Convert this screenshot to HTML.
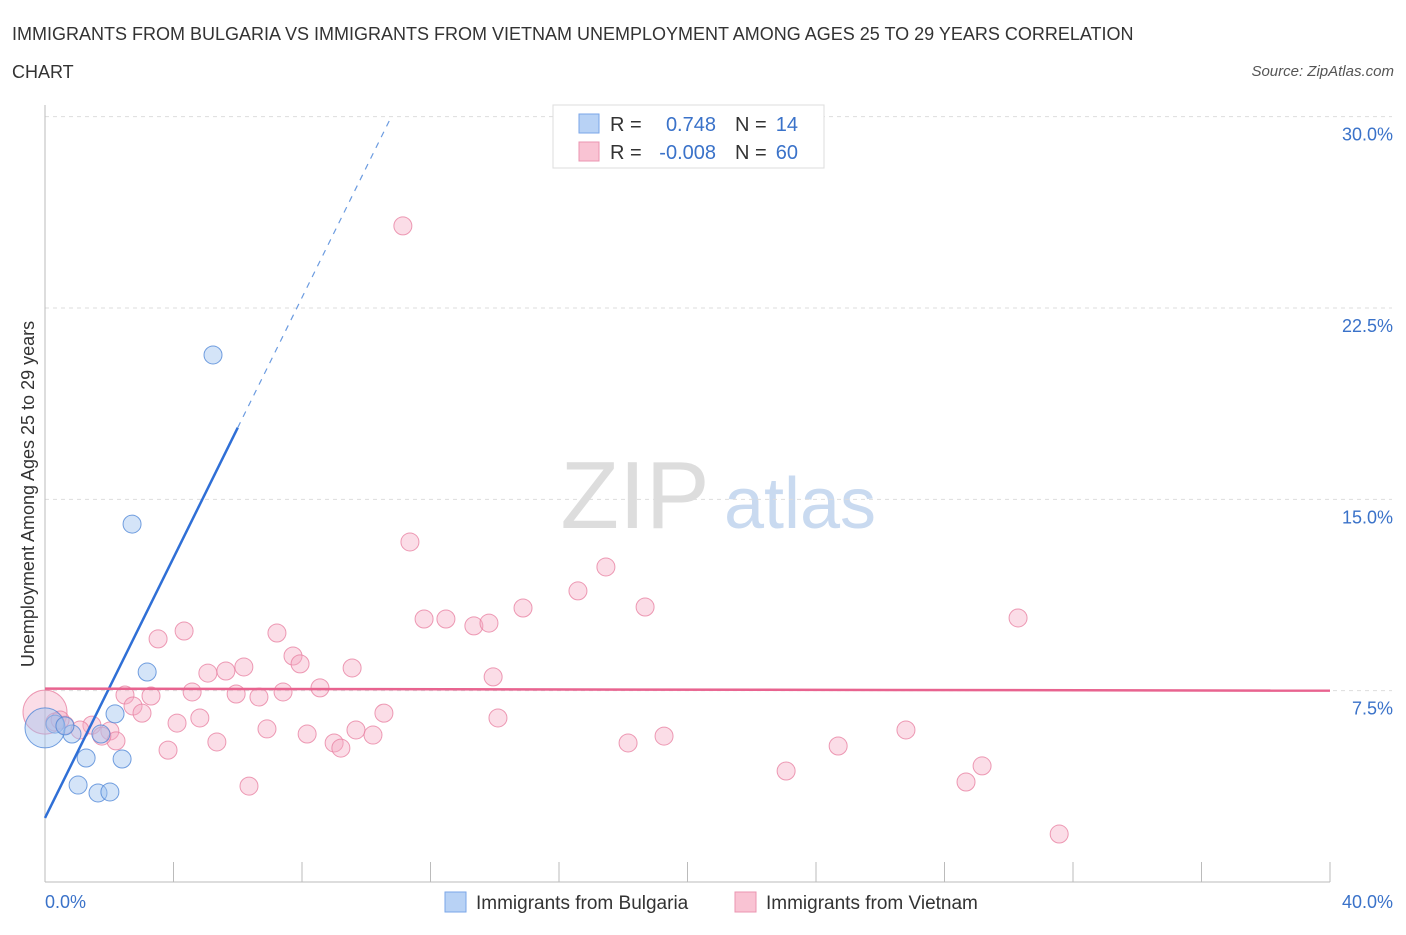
<!DOCTYPE html>
<html><head><meta charset="utf-8"><style>
body{margin:0;background:#fff;font-family:"Liberation Sans",sans-serif;}
svg text{font-family:"Liberation Sans",sans-serif;}
</style></head><body>
<svg id="chart" width="1406" height="930">
<text x="12" y="40" font-size="18" fill="#333">IMMIGRANTS FROM BULGARIA VS IMMIGRANTS FROM VIETNAM UNEMPLOYMENT AMONG AGES 25 TO 29 YEARS CORRELATION</text>
<text x="12" y="78" font-size="18" fill="#333">CHART</text>
<text x="1394" y="76" font-size="15" fill="#555" font-style="italic" text-anchor="end">Source: ZipAtlas.com</text>
<text x="635" y="528" font-size="96" fill="#ddd" font-family="Liberation Serif" text-anchor="middle">ZIP</text>
<text x="800" y="528" font-size="72" fill="#c9daf0" text-anchor="middle">atlas</text>
<text transform="translate(34,494) rotate(-90)" font-size="18" fill="#333" text-anchor="middle">Unemployment Among Ages 25 to 29 years</text>
<g id="grid"></g><g id="marks"></g><g id="lines"></g>
<g>
<rect x="553" y="105" width="271" height="63" fill="#fff" stroke="#ddd"/>
<rect x="579" y="114" width="20" height="19" fill="#b8d2f5" stroke="#7aa6e8"/>
<rect x="579" y="142" width="20" height="19" fill="#f9c3d3" stroke="#eb94b0"/>
<text x="610" y="131" font-size="20" fill="#333">R =</text>
<text x="716" y="131" font-size="20" fill="#3a72c9" text-anchor="end">0.748</text>
<text x="735" y="131" font-size="20" fill="#333">N =</text>
<text x="798" y="131" font-size="20" fill="#3a72c9" text-anchor="end">14</text>
<text x="610" y="159" font-size="20" fill="#333">R =</text>
<text x="716" y="159" font-size="20" fill="#3a72c9" text-anchor="end">-0.008</text>
<text x="735" y="159" font-size="20" fill="#333">N =</text>
<text x="798" y="159" font-size="20" fill="#3a72c9" text-anchor="end">60</text>
</g>
<g>
<rect x="445" y="892" width="21" height="20" fill="#b8d2f5" stroke="#7aa6e8"/>
<text x="476" y="909" font-size="19" fill="#333">Immigrants from Bulgaria</text>
<rect x="735" y="892" width="21" height="20" fill="#f9c3d3" stroke="#eb94b0"/>
<text x="766" y="909" font-size="19" fill="#333">Immigrants from Vietnam</text>
</g>
</svg>
<script>
const yTicks=[7.5,15,22.5,30];
const yTickLabels=["7.5%","15.0%","22.5%","30.0%"];
const xTickCount=10;
const xLabels=["0.0%","40.0%"];
const bulgariaX=[5.23,2.71,3.18,2.18,1.74,0.84,0.31,1.28,2.40,1.03,1.65,2.02,0.0,0.62];
const bulgariaY=[20.66,14.03,8.23,6.59,5.80,5.80,6.19,4.86,4.82,3.80,3.49,3.53,6.04,6.12];
const vietnamX=[11.14,11.36,17.46,16.59,14.88,18.68,30.29,11.80,12.48,13.35,13.82,4.33,3.52,7.22,7.72,7.94,9.56,6.19,5.63,5.07,13.95,8.56,4.58,7.41,5.95,6.66,2.49,3.30,2.74,3.02,10.55,14.10,4.82,4.11,6.91,9.68,2.02,1.46,8.16,10.21,26.80,19.27,2.21,5.35,18.15,9.00,9.21,24.69,3.83,29.17,23.07,28.67,6.35,31.57,0,0.31,0.62,1.09,1.77,0.47];
const vietnamY=[25.72,13.33,12.35,11.41,10.74,10.78,10.35,10.31,10.31,10.04,10.15,9.84,9.53,9.76,8.86,8.55,8.39,8.43,8.27,8.19,8.04,7.61,7.45,7.45,7.37,7.25,7.33,7.29,6.90,6.62,6.62,6.43,6.43,6.23,6.00,5.96,5.92,6.15,5.80,5.76,5.96,5.72,5.53,5.49,5.45,5.45,5.25,5.33,5.17,4.55,4.35,3.92,3.76,1.88,6.66,6.27,6.15,5.96,5.72,6.35];
const bulgariaFit=[2.51,2.55]; // intercept, slope
const vietnamFit=[7.58,-0.002];
const NS="http://www.w3.org/2000/svg";
const X=v=>45+v/40*1285, Y=v=>882-v/7.5*191.33;
function mk(tag,attrs,parent){const e=document.createElementNS(NS,tag);for(const k in attrs)e.setAttribute(k,attrs[k]);parent.appendChild(e);return e;}
const grid=document.getElementById('grid'),marks=document.getElementById('marks'),lines=document.getElementById('lines');
yTicks.forEach((t,i)=>{
 const l=mk('line',{x1:45,x2:1392,y1:Y(t),y2:Y(t),stroke:'#ddd','stroke-dasharray':'4,4'},grid);
 
 
 const tx=mk('text',{x:1393,y:Y(t)+24,'font-size':18,fill:'#3a72c9','text-anchor':'end'},grid);
 tx.textContent=yTickLabels[i];
 
 
});
const ax=mk('line',{x1:45,x2:1330,y1:882,y2:882,stroke:'#bbb'},grid);


const ay=mk('line',{x1:45,x2:45,y1:105,y2:882,stroke:'#bbb'},grid);


for(let i=0;i<=xTickCount;i++){
 const xv=X(i*40/xTickCount);
 const t=mk('line',{x1:xv,x2:xv,y1:862,y2:882,stroke:'#bbb'},grid);
 
 
}
const xl0=mk('text',{x:45,y:908,'font-size':18,fill:'#3a72c9'},grid);xl0.textContent=xLabels[0];


const xl1=mk('text',{x:1393,y:908,'font-size':18,fill:'#3a72c9','text-anchor':'end'},grid);xl1.textContent=xLabels[1];


vietnamX.forEach((v,i)=>{
 const big=(v===0);
 const c=mk('circle',{cx:X(v),cy:Y(vietnamY[i]),r:big?22:9,fill:'rgba(246,170,195,0.4)',stroke:'rgba(232,130,162,0.8)','stroke-width':1},marks);
 
 
});
bulgariaX.forEach((v,i)=>{
 const big=(v===0);
 const c=mk('circle',{cx:X(v),cy:Y(bulgariaY[i]),r:big?20:9,fill:'rgba(160,195,240,0.45)',stroke:'rgba(80,135,215,0.8)','stroke-width':1},marks);
 
 
});
const bx2=(30-bulgariaFit[0])/bulgariaFit[1];
const bl=mk('line',{x1:X(0),y1:Y(bulgariaFit[0]),x2:X(6),y2:Y(bulgariaFit[0]+6*bulgariaFit[1]),stroke:'#2f6fd6','stroke-width':2.5},lines);


const bd=mk('line',{x1:X(6),y1:Y(bulgariaFit[0]+6*bulgariaFit[1]),x2:X(bx2),y2:Y(30),stroke:'#6b9be0','stroke-width':1.2,'stroke-dasharray':'6,6'},lines);


const vl=mk('line',{x1:X(0),y1:Y(vietnamFit[0]),x2:X(40),y2:Y(vietnamFit[0]+40*vietnamFit[1]),stroke:'#e8638f','stroke-width':2.5},lines);


</script>
</body></html>
